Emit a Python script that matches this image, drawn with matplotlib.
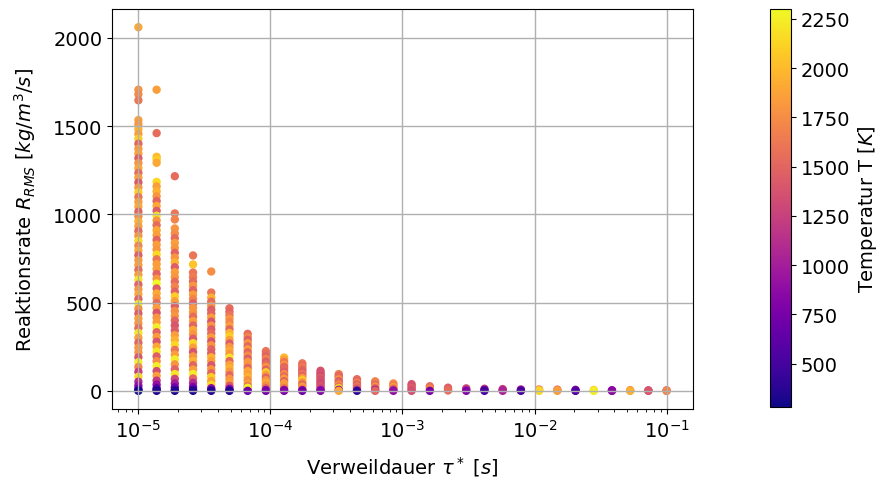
import matplotlib
matplotlib.use("Agg")
import matplotlib.pyplot as plt
import numpy as np

# Verweildauer-Stufen (30 Stufen, 1e-5 ... 1e-1 s)
tau = [1.000e-5, 1.374e-5, 1.887e-5, 2.593e-5, 3.562e-5, 4.894e-5, 6.723e-5, 9.237e-5,
       1.269e-4, 1.743e-4, 2.395e-4, 3.290e-4, 4.520e-4, 6.210e-4, 8.532e-4,
       1.172e-3, 1.610e-3, 2.212e-3, 3.039e-3, 4.175e-3, 5.737e-3, 7.881e-3,
       1.083e-2, 1.488e-2, 2.043e-2, 2.808e-2, 3.857e-2, 5.298e-2, 7.279e-2, 1.000e-1]

# Reaktionsrate R_RMS je Verweildauer [kg/m^3/s]
rate = [
    [2060, 1706, 1680, 1646, 1534, 1510, 1482, 1455, 1428, 1400, 1372, 1345, 1318, 1290, 1262,
     1235, 1208, 1180, 1152, 1125, 1098, 1070, 1043, 1015, 988, 960, 932, 905, 878, 850, 822,
     795, 768, 740, 712, 685, 658, 630, 602, 575, 548, 520, 492, 465, 438, 410, 382, 355, 328,
     300, 272, 245, 218, 190, 162, 135, 108, 80, 52, 30, 12, 4, 0],
    [1706, 1460, 1326, 1310, 1292, 1184, 1158, 1130, 1102, 1075, 1048, 1020, 992, 965, 938,
     910, 882, 855, 828, 800, 772, 745, 718, 690, 662, 635, 608, 580, 552, 525, 498, 470, 442,
     415, 388, 360, 332, 305, 278, 250, 222, 195, 168, 140, 112, 85, 58, 35, 15, 5, 0],
    [1216, 1005, 971, 920, 892, 865, 838, 810, 782, 755, 728, 700, 672, 645, 618, 590, 562,
     535, 508, 480, 452, 425, 398, 370, 342, 315, 288, 260, 232, 205, 178, 150, 122, 95, 68,
     42, 20, 6, 0],
    [767, 716, 670, 645, 620, 595, 570, 545, 520, 495, 470, 445, 420, 395, 370, 345, 320, 295,
     270, 245, 220, 195, 170, 145, 120, 95, 70, 45, 22, 8, 0],
    [676, 557, 528, 505, 482, 460, 438, 415, 392, 370, 348, 325, 302, 280, 258, 235, 212, 190,
     168, 145, 122, 100, 78, 55, 35, 15, 5, 0],
    [468, 448, 428, 408, 388, 368, 348, 328, 308, 288, 268, 248, 228, 208, 188, 168, 148, 128,
     108, 88, 68, 48, 28, 12, 4, 0],
    [323, 305, 288, 270, 252, 235, 218, 200, 182, 165, 148, 130, 112, 95, 78, 60, 42, 25, 8, 18, 0],
    [225, 210, 195, 180, 165, 150, 135, 120, 105, 90, 75, 60, 45, 30, 15, 5, 0],
    [189, 175, 162, 148, 135, 122, 108, 95, 82, 68, 55, 42, 28, 15, 5, 0],
    [156, 144, 132, 120, 108, 96, 84, 72, 60, 48, 36, 24, 12, 4, 0],
    [114, 104, 94, 84, 74, 64, 54, 44, 34, 24, 14, 5, 0],
    [95, 85, 75, 65, 55, 45, 35, 25, 15, 6, 0],
    [66, 56, 46, 36, 26, 16, 6, 0],
    [54, 44, 34, 24, 14, 5, 0],
    [42, 32, 22, 12, 4, 0],
    [38, 28, 18, 8, 0],
    [26, 14, 0],
    [18, 8, 2],
    [14, 6, 0],
    [12, 5, 0],
    [10, 4, 0],
    [8, 3, 0],
    [8, 3, 0],
    [7, 3, 0],
    [6, 2, 0],
    [5, 2, 0],
    [4, 1, 0],
    [4, 1, 0],
    [3, 1, 0],
    [3, 1, 0],
]

# Temperatur T [K] zu jedem Punkt
temp = [
    [1900, 1780, 1720, 1620, 1850, 1800, 1950, 1850, 2100, 1500, 1820, 1880, 1450, 1780, 1900,
     1550, 1850, 1420, 1800, 2100, 1600, 1850, 1900, 1480, 1750, 1950, 1850, 1520, 1800, 2150,
     1700, 1900, 1450, 1820, 1850, 1550, 1850, 2200, 1480, 1800, 1900, 1500, 2250, 1750, 1450,
     1850, 1800, 1550, 2200, 1850, 1500, 1800, 1800, 1400, 2250, 1700, 1250, 2150, 1100, 900,
     700, 550, 280],
    [1850, 1550, 2000, 2100, 1900, 2150, 1850, 1950, 1800, 1500, 1900, 1450, 2200, 1800, 1550,
     1900, 1850, 1500, 1850, 1800, 2150, 1600, 1850, 1850, 1500, 1800, 2300, 1450, 1900, 1800,
     1550, 1850, 1400, 1800, 1850, 2250, 1500, 1850, 1400, 1900, 2200, 1450, 1750, 2250, 1350,
     1850, 1200, 900, 600, 450, 350],
    [1550, 1600, 1700, 1800, 1750, 1550, 1850, 1800, 1500, 1800, 1950, 1450, 1850, 1800, 1550,
     1700, 1500, 2100, 1850, 1450, 1750, 1800, 1500, 1400, 1450, 1850, 1950, 2150, 1600, 1850,
     2250, 1800, 1500, 2200, 1300, 1000, 750, 500, 350],
    [1600, 2050, 1600, 1650, 1550, 1800, 1500, 1850, 1700, 1450, 1800, 1800, 1550, 1850, 1500,
     1900, 1800, 1450, 2150, 1850, 1400, 1800, 1950, 1500, 1850, 2250, 1500, 1100, 800, 500, 350],
    [1750, 1600, 1950, 1550, 1800, 1450, 1500, 1850, 1400, 1800, 1450, 1550, 1850, 1400, 1800,
     1500, 1450, 1950, 1850, 1400, 1800, 1500, 2100, 1850, 2150, 900, 600, 350],
    [1550, 1500, 1600, 1800, 1700, 1850, 1500, 1950, 2100, 1850, 1450, 1800, 1900, 1800, 2200,
     1500, 1850, 1950, 1800, 1500, 1800, 1850, 1400, 900, 600, 350],
    [1550, 1700, 1450, 1800, 1500, 1850, 1500, 1750, 1450, 1800, 1800, 1500, 1900, 1850, 1950,
     1750, 1850, 1500, 1000, 2250, 700],
    [1600, 1550, 1500, 1700, 1450, 1550, 1800, 1500, 2100, 1850, 1500, 1800, 1900, 1750, 1500,
     900, 750],
    [2000, 1850, 1600, 1800, 1500, 1550, 1450, 1750, 1550, 1850, 1500, 1850, 1800, 1600, 850, 800],
    [1600, 1550, 1650, 1500, 1450, 1600, 1500, 1850, 2100, 1800, 1500, 1850, 1650, 900, 700],
    [1400, 1350, 1400, 1300, 1450, 1350, 1400, 1300, 1350, 1400, 1300, 950, 800],
    [1650, 1500, 1550, 1800, 1450, 1500, 1750, 1600, 2150, 900, 1900],
    [1550, 1500, 1700, 1450, 1600, 1500, 1200, 400],
    [1700, 1650, 1550, 1800, 1450, 1000, 1500],
    [1750, 1650, 1850, 1550, 1100, 900],
    [1400, 1350, 1450, 1400, 1350],
    [1550, 1700, 750],
    [1450, 1500, 1550],
    [1300, 1100, 800],
    [1200, 650, 500],
    [1250, 1100, 1050],
    [1100, 700, 500],
    [1700, 2000, 2150],
    [1550, 1800, 1850],
    [1000, 600, 550],
    [2000, 2200, 2250],
    [1000, 800, 850],
    [1700, 1850, 1950],
    [1300, 1350, 1400],
    [1500, 1650, 1700],
]

x, y, c = [], [], []
for t, r_list, T_list in zip(tau, rate, temp):
    for r, T in zip(r_list, T_list):
        x.append(t)
        y.append(r)
        c.append(T)

plt.rc('font', size=14)
fs = 14

fig = plt.figure(figsize=(8.79, 4.85), dpi=100)
ax = fig.add_axes([0.1274, 0.1546, 0.661, 0.8247])
cax = fig.add_axes([0.876, 0.1588, 0.0239, 0.8206])

sc = ax.scatter(x, y, c=c, cmap='plasma', s=25)
ax.set_xscale('log')
ax.set_xlabel(r'Verweildauer $\tau^*$ $[s]$', fontsize=fs, labelpad=10)
ax.set_ylabel(r'Reaktionsrate $R_{RMS}$ $[kg/m^3/s]$', fontsize=fs, labelpad=11)
ax.tick_params(labelsize=fs)
ax.grid(True, linewidth=1.0)

cb = fig.colorbar(sc, cax=cax)
cb.set_label(r'Temperatur T $[K]$', fontsize=fs)
cb.ax.tick_params(labelsize=fs)

fig.savefig('out.png', dpi=100)
